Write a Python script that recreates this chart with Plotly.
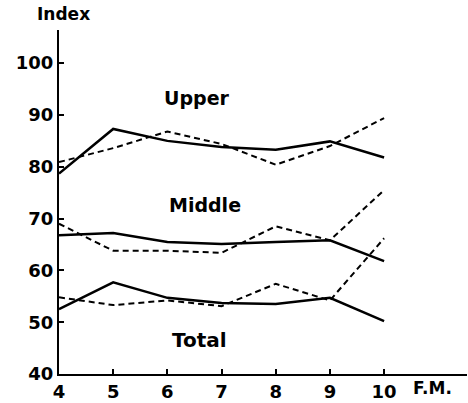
import plotly.graph_objects as go

# Months of the season (x axis) and index values per group
months = [4, 5, 6, 7, 8, 9, 10]
upper_solid = [78.7, 87.3, 85.0, 83.8, 83.3, 84.9, 81.8]
upper_dashed = [80.9, 83.6, 86.8, 84.4, 80.4, 84.0, 89.4]
middle_solid = [66.8, 67.2, 65.5, 65.1, 65.5, 65.8, 61.8]
middle_dashed = [69.0, 63.8, 63.8, 63.4, 68.5, 65.8, 75.5]
total_solid = [52.5, 57.7, 54.7, 53.7, 53.5, 54.7, 50.2]
total_dashed = [54.8, 53.3, 54.2, 53.1, 57.4, 54.2, 66.2]

y_ticks = [40, 50, 60, 70, 80, 90, 100]
x_ticks = [4, 5, 6, 7, 8, 9, 10]

FONT = "DejaVu Sans"

fig = go.Figure()
solid_series = [upper_solid, middle_solid, total_solid]
dashed_series = [upper_dashed, middle_dashed, total_dashed]
for s in solid_series:
    fig.add_trace(go.Scatter(x=months, y=s, mode="lines",
                             line=dict(color="black", width=2.5),
                             showlegend=False, hoverinfo="skip"))
for s in dashed_series:
    fig.add_trace(go.Scatter(x=months, y=s, mode="lines",
                             line=dict(color="black", width=2, dash="6px,4px"),
                             showlegend=False, hoverinfo="skip"))

label_font = dict(family=FONT, size=19, color="black")
fig.add_annotation(x=6.55, y=93.2, text="<b>Upper</b>", showarrow=False, font=label_font)
fig.add_annotation(x=6.69, y=72.6, text="<b>Middle</b>", showarrow=False, font=label_font)
fig.add_annotation(x=6.6, y=46.6, text="<b>Total</b>", showarrow=False, font=dict(family=FONT, size=20, color="black"))
fig.add_annotation(xref="paper", yref="paper", x=-0.059, y=1.0, xanchor="left", yanchor="bottom",
                   text="<b>Index</b>", showarrow=False, font=dict(family=FONT, size=17, color="black"),
                   yshift=4)
fig.add_annotation(x=10.5, y=40, yref="y", xanchor="left", yanchor="top",
                   text="<b>F.M.</b>", showarrow=False, font=dict(family=FONT, size=17, color="black"),
                   yshift=-2)

fig.update_xaxes(range=[4, 11.53], tickvals=x_ticks, ticktext=[f"<b>{v}</b>" for v in x_ticks],
                 showgrid=False, zeroline=False, showline=True, linecolor="black", linewidth=2,
                 ticks="inside", ticklen=5, tickwidth=1.5, tickcolor="black",
                 tickfont=dict(family=FONT, size=18, color="black"))
fig.update_yaxes(range=[40, 106.4], tickvals=y_ticks, ticktext=[f"<b>{v}</b>" for v in y_ticks],
                 showgrid=False, zeroline=False, showline=True, linecolor="black", linewidth=2,
                 ticks="inside", ticklen=5, tickwidth=1.5, tickcolor="black",
                 tickfont=dict(family=FONT, size=18, color="black"))

fig.update_layout(width=468, height=403, margin=dict(l=59, r=1, t=30, b=21),
                  plot_bgcolor="white", paper_bgcolor="white")

fig.write_html("out.html")
